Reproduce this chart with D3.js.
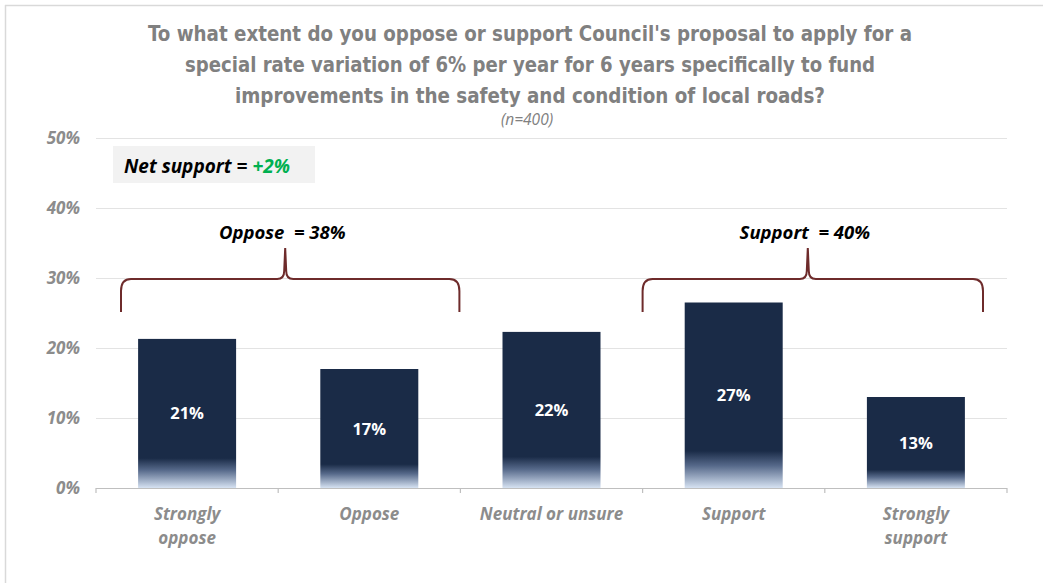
<!DOCTYPE html>
<html><head><meta charset="utf-8">
<script src="https://cdn.jsdelivr.net/npm/d3@7"></script>
<style>body{margin:0;background:#fff;} svg{display:block;}</style>
</head><body>
<svg id="c" width="1043" height="583"></svg>
<script>
const categories = [["Strongly","oppose"],["Oppose"],["Neutral or unsure"],["Support"],["Strongly","support"]];
const values = [21.3, 17.0, 22.3, 26.5, 13.0];
const valueLabels = ["21%","17%","22%","27%","13%"];
const yTicks = [0,10,20,30,40,50];
const titleLines = ["To what extent do you oppose or support Council's proposal to apply for a",
  "special rate variation of 6% per year for 6 years specifically to fund",
  "improvements in the safety and condition of local roads?"];
const titleWidths = [764, 690, 590];
const subtitle = "(n=400)";
const groups = [{label:"Oppose  = 38%", from:0, to:1},{label:"Support  = 40%", from:3, to:4}];
const netLabel = "Net support = ", netValue = "+2%";

const svg = d3.select("#c");
const x = d3.scaleBand().domain(d3.range(categories.length)).range([96,1007]).paddingInner(0).paddingOuter(0);
const y = d3.scaleLinear().domain([0,50]).range([488,138]);

// frame lines
svg.append("line").attr("x1",5.5).attr("x2",5.5).attr("y1",5).attr("y2",583).attr("stroke","#d9d9d9").attr("stroke-width",1.5);
svg.append("line").attr("x1",5).attr("x2",1043).attr("y1",5.5).attr("y2",5.5).attr("stroke","#d9d9d9").attr("stroke-width",1.5);

// title
svg.append("g").selectAll("text").data(titleLines).join("text")
  .attr("x",530).attr("y",(d,i)=>41+i*31).attr("text-anchor","middle")
  .attr("font-family","'DejaVu Sans Condensed', 'Liberation Sans', sans-serif").attr("font-weight","bold").attr("font-size",21)
  .attr("fill","#808080").attr("textLength",(d,i)=>titleWidths[i]).attr("lengthAdjust","spacingAndGlyphs").text(d=>d);
svg.append("text").attr("x",527).attr("y",125).attr("text-anchor","middle")
  .attr("font-family","'Open Sans', sans-serif").attr("font-style","italic").attr("font-size",15.5)
  .attr("fill","#808080").text(subtitle);

// grid
svg.append("g").selectAll("line").data(yTicks.filter(d=>d>0)).join("line")
  .attr("x1",96).attr("x2",1007).attr("y1",d=>y(d)+0.5).attr("y2",d=>y(d)+0.5)
  .attr("stroke","#e3e3e3").attr("stroke-width",1);

// y axis labels
const yAxis = d3.axisLeft(y).tickValues(yTicks).tickFormat(d=>d+"%").tickSize(0).tickPadding(0);
const ya = svg.append("g").attr("transform","translate(80,0)").call(yAxis);
ya.select(".domain").remove();
ya.selectAll("text").attr("font-family","'Open Sans', sans-serif").attr("font-weight","bold").attr("font-style","italic")
  .attr("font-size",17).attr("fill","#8c8c8c");

// gradient
const defs = svg.append("defs");
const g = defs.append("linearGradient").attr("id","bg").attr("x1",0).attr("x2",0).attr("y1",0).attr("y2",1);
g.append("stop").attr("offset","0.80").attr("stop-color","#1a2b47");
g.append("stop").attr("offset","0.88").attr("stop-color","#56698a");
g.append("stop").attr("offset","1").attr("stop-color","#d6e2f2");

// bars
const bw = 98;
svg.append("g").selectAll("rect").data(values).join("rect")
  .attr("x",(d,i)=>x(i)+x.bandwidth()/2-bw/2).attr("width",bw)
  .attr("y",d=>y(d)).attr("height",d=>y(0)-y(d)).attr("fill","url(#bg)");

svg.append("g").selectAll("text").data(values).join("text")
  .attr("x",(d,i)=>x(i)+x.bandwidth()/2).attr("y",d=>(y(d)+y(0))/2+6)
  .attr("text-anchor","middle").attr("font-family","'Open Sans', sans-serif").attr("font-weight","bold")
  .attr("font-size",16.5).attr("fill","#fff").text((d,i)=>valueLabels[i]);

// x axis
const xa = svg.append("g").attr("transform","translate(0,488)");
xa.append("line").attr("x1",96).attr("x2",1007).attr("y1",0.5).attr("y2",0.5).attr("stroke","#bfbfbf").attr("stroke-width",1.2);
xa.selectAll("line.t").data(d3.range(categories.length+1)).join("line").attr("class","t")
  .attr("x1",i=>i<categories.length?x(i):x.range()[1]).attr("x2",i=>i<categories.length?x(i):x.range()[1])
  .attr("y1",0).attr("y2",5).attr("stroke","#bfbfbf").attr("stroke-width",1.2);
const xl = svg.append("g").selectAll("text").data(categories).join("text")
  .attr("x",(d,i)=>x(i)+x.bandwidth()/2).attr("y",520).attr("text-anchor","middle")
  .attr("font-family","'Open Sans', sans-serif").attr("font-weight","bold").attr("font-style","italic")
  .attr("font-size",17).attr("fill","#8c8c8c");
xl.each(function(d){ const t=d3.select(this); d.forEach((l,j)=>t.append("tspan").attr("x",t.attr("x")).attr("dy",j?24:0).text(l)); });

// net support box
svg.append("rect").attr("x",113).attr("y",146).attr("width",202).attr("height",37).attr("fill","#f2f2f2");
const nt = svg.append("text").attr("x",124).attr("y",173).attr("font-family","'Open Sans', sans-serif")
  .attr("font-weight","bold").attr("font-style","italic").attr("font-size",19).attr("fill","#000").attr("xml:space","preserve");
nt.append("tspan").text(netLabel);
nt.append("tspan").attr("fill","#00b050").text(netValue);

// braces
const braceTop = y(30)+1, braceBot = 312, peak = 248;
groups.forEach(gr=>{
  const x0 = x(gr.from)+(gr.from===0?25:0), x1 = x(gr.to)+x.bandwidth()-(gr.to===4?24:1);
  const xm = (x0+x1)/2 - 5;
  const r = 8;
  const p = d3.path();
  p.moveTo(x0, braceBot);
  p.lineTo(x0, braceTop+r+4);
  p.quadraticCurveTo(x0, braceTop, x0+r+2, braceTop);
  p.lineTo(xm-r, braceTop);
  p.quadraticCurveTo(xm-1, braceTop, xm-1, braceTop-r);
  p.lineTo(xm, peak);
  p.moveTo(xm, peak);
  p.lineTo(xm+1, braceTop-r);
  p.quadraticCurveTo(xm+1, braceTop, xm+r, braceTop);
  p.lineTo(x1-r-2, braceTop);
  p.quadraticCurveTo(x1, braceTop, x1, braceTop+r+4);
  p.lineTo(x1, braceBot);
  svg.append("path").attr("d",p.toString()).attr("fill","none").attr("stroke","#6e2b2b").attr("stroke-width",2);
  svg.append("text").attr("x",xm-3).attr("y",peak-9).attr("text-anchor","middle")
    .attr("font-family","'Open Sans', sans-serif").attr("font-weight","bold").attr("font-style","italic")
    .attr("font-size",18.5).attr("fill","#000").attr("xml:space","preserve").text(gr.label);
});
</script>
</body></html>
